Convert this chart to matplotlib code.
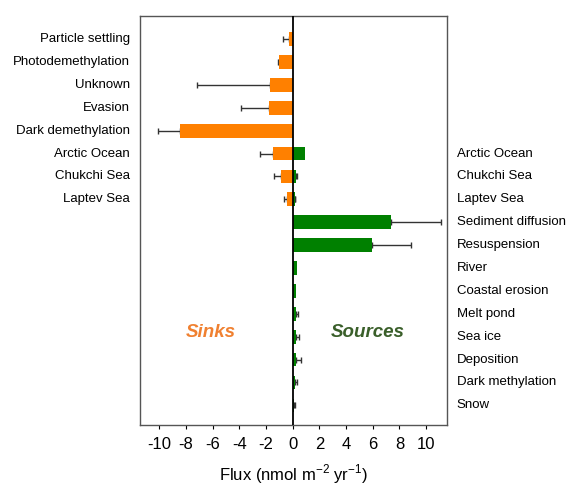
import numpy as np
import matplotlib.pyplot as plt

plt.rcParams['font.family'] = ['Liberation Sans', 'DejaVu Sans']

# sinks (negative flux), rows 0..7 from top
sink_labels = ['Particle settling', 'Photodemethylation', 'Unknown', 'Evasion',
               'Dark demethylation', 'Arctic Ocean', 'Chukchi Sea', 'Laptev Sea']
sink_vals = [-0.3, -1.05, -1.73, -1.8, -8.47, -1.5, -0.9, -0.45]
sink_err = [0.42, 0.05, 5.45, 2.1, 1.6, 0.93, 0.48, 0.23]

# sources (positive flux), rows 5..16
source_labels = ['Arctic Ocean', 'Chukchi Sea', 'Laptev Sea', 'Sediment diffusion',
                 'Resuspension', 'River', 'Coastal erosion', 'Melt pond', 'Sea ice',
                 'Deposition', 'Dark methylation', 'Snow']
source_vals = [0.95, 0.27, 0.17, 7.4, 5.94, 0.35, 0.27, 0.27, 0.27, 0.27, 0.2, 0.12]
source_err = [0.0, 0.03, 0.03, 3.68, 2.96, 0.0, 0.0, 0.15, 0.2, 0.38, 0.1, 0.05]

xticks = [-10, -8, -6, -4, -2, 0, 2, 4, 6, 8, 10]

fig = plt.figure(figsize=(5.67, 4.9), dpi=100)
ax = fig.add_axes([0.247, 0.133, 0.541, 0.834])

sink_y = np.arange(len(sink_labels))
source_y = np.arange(len(source_labels)) + 5

ax.barh(sink_y, sink_vals, height=0.6, color='#FF8000', zorder=2)
ax.barh(source_y, source_vals, height=0.6, color='#008000', zorder=2)

# one-sided error bars, only where there is an error
se = np.array(sink_err)
m = se > 0
ax.errorbar(np.array(sink_vals)[m], sink_y[m], xerr=[se[m], np.zeros(m.sum())],
            fmt='none', ecolor='#333333', elinewidth=1, capsize=2.5, capthick=1, zorder=1)
oe = np.array(source_err)
m = oe > 0
ax.errorbar(np.array(source_vals)[m], source_y[m], xerr=[np.zeros(m.sum()), oe[m]],
            fmt='none', ecolor='#333333', elinewidth=1, capsize=2.5, capthick=1, zorder=1)

ax.axvline(0, color='black', lw=1.3, zorder=3)

ax.set_xlim(-11.45, 11.55)
ax.set_ylim(16.85, -1.0)
ax.set_xticks(xticks)
ax.set_xticklabels([str(t) for t in xticks], fontsize=12)
ax.tick_params(axis='x', length=3, pad=6)
ax.set_yticks([])
ax.set_xlabel('Flux (nmol m$^{\\mathregular{-2}}$ yr$^{\\mathregular{-1}}$)', fontsize=12, labelpad=7)

for s in ax.spines.values():
    s.set_color('#555555')
    s.set_linewidth(1)

for y, lab in zip(sink_y, sink_labels):
    ax.text(-12.2, y, lab, ha='right', va='center', fontsize=9.5, clip_on=False)
for y, lab in zip(source_y, source_labels):
    ax.text(12.3, y, lab, ha='left', va='center', fontsize=9.5, clip_on=False)

ax.text(-6.15, 12.8, 'Sinks', color='#F08030', fontsize=13.5, fontstyle='italic',
        fontweight='bold', ha='center', va='center')
ax.text(5.6, 12.8, 'Sources', color='#3A5F2A', fontsize=13.5, fontstyle='italic',
        fontweight='bold', ha='center', va='center')

fig.savefig('out.png', dpi=100)
